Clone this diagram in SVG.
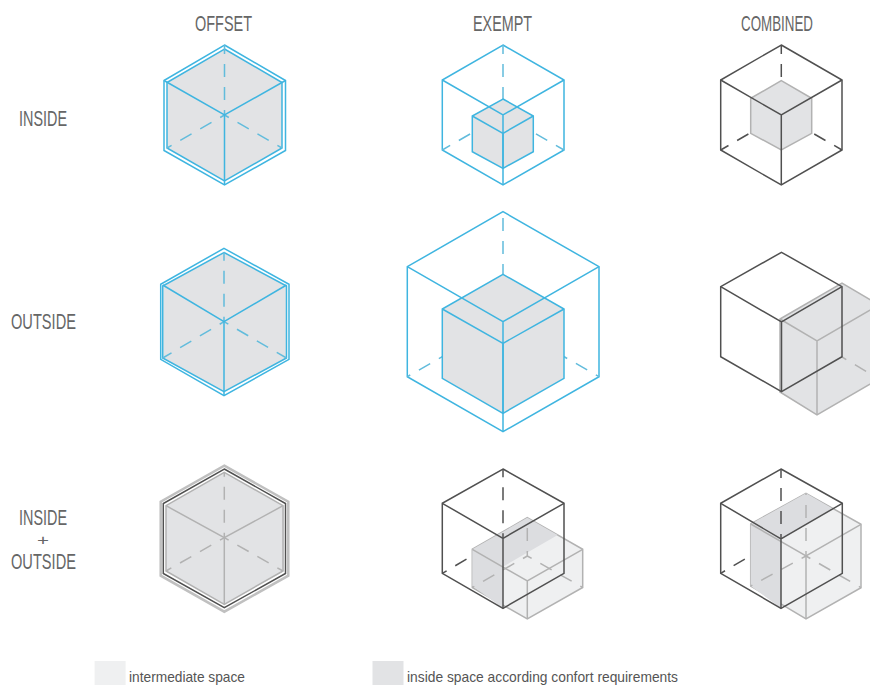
<svg xmlns="http://www.w3.org/2000/svg" width="870" height="685" viewBox="0 0 870 685">
<style>
.t{font-family:"Liberation Sans",Arial,sans-serif;font-size:22.5px;fill:#666}
.p{font-family:"Liberation Sans",Arial,sans-serif;font-size:14px;fill:#666}
.l{font-family:"Liberation Sans",Arial,sans-serif;font-size:14.5px;fill:#555}
path{fill:none;stroke-linejoin:miter;stroke-width:1.5}
.b{stroke:#3fb5e0}
.bd{stroke:#62bcdc;stroke-dasharray:13 10;stroke-dashoffset:8}
.k{stroke:#505050}
.kd{stroke:#505050;stroke-dasharray:13 10;stroke-dashoffset:8}
.g{stroke:#b2b2b2}
.gd{stroke:#b2b2b2;stroke-dasharray:13 10;stroke-dashoffset:8}
.f{fill:#e2e3e5}
.m{fill:#dcdde0;stroke:none}
.li{fill:#eff0f1}
</style>
<rect width="870" height="685" fill="#fff"/>
<g id="headers">
<text class="t" x="195" y="31" textLength="57" lengthAdjust="spacingAndGlyphs">OFFSET</text>
<text class="t" x="473" y="31" textLength="59" lengthAdjust="spacingAndGlyphs">EXEMPT</text>
<text class="t" x="741" y="31" textLength="72" lengthAdjust="spacingAndGlyphs">COMBINED</text>
<text class="t" x="19" y="126" textLength="48" lengthAdjust="spacingAndGlyphs">INSIDE</text>
<text class="t" x="11" y="329" textLength="65" lengthAdjust="spacingAndGlyphs">OUTSIDE</text>
<text class="t" x="19" y="525" textLength="48" lengthAdjust="spacingAndGlyphs">INSIDE</text>
<text class="p" x="37" y="545" textLength="12" lengthAdjust="spacingAndGlyphs">+</text>
<text class="t" x="11" y="569" textLength="65" lengthAdjust="spacingAndGlyphs">OUTSIDE</text>
</g>
<g id="offset-inside">
<path class="f b" d="M224.5 49L282 82.5V148L224.5 181L167 148V82.5Z"/>
<path class="b" d="M224.5 45L285.5 80.5V150.5L224.5 185L164 150.5V80.5Z"/>
<path class="bd" d="M224.5 115V45M224.5 115L167 148M224.5 115L282 148"/>
<path class="b" d="M164 80.5L224.5 115L285.5 80.5M224.5 115V185"/>
</g>
<g id="exempt-inside">
<path class="b" d="M503 45L564 80V150L503 185L442.3 150V80Z"/>
<path class="bd" d="M503 115V45M503 115L442.3 150M503 115L564 150"/>
<path class="f b" d="M503 99L533.3 116V151.7L503 168.3L472.3 151.7V116Z"/>
<path class="b" d="M472.3 116L503 133.3L533.3 116M503 133.3V168.3"/>
<path class="b" d="M442.3 80L503 115L564 80M503 115V185"/>
</g>
<g id="combined-inside">
<path class="k" d="M781.3 45L842 80V150L781.3 185L720.7 150V80Z"/>
<path class="kd" d="M781.3 115V45M781.3 115L720.7 150M781.3 115L842 150"/>
<path class="f g" d="M781.3 80.7L811.7 98.3V133.3L781.3 150L750.7 133.3V98.3Z"/>
<path class="k" d="M720.7 80L781.3 115L842 80M781.3 115V185"/>
</g>
<g id="offset-outside">
<path class="f b" d="M224 252.5L286.5 286V358L224 391.7L162.7 358V286Z"/>
<path class="b" d="M224 248.3L289 284.3V359.3L224 395.7L160.7 359.3V284.3Z"/>
<path class="bd" d="M224 321.7V252M224 321.7L162.7 358M224 321.7L286.5 358"/>
<path class="b" d="M162.7 285L224 321.7L286.5 285M224 321.7V395.7"/>
</g>
<g id="exempt-outside">
<path class="b" d="M503 211.7L599 266.7V376.7L503 431.7L407.3 376.7V266.7Z"/>
<path class="bd" d="M503 321.7L407.3 376.7M503 321.7L599 376.7"/>
<path class="bd" style="stroke-dashoffset:17" d="M503 212V274"/>
<path class="f b" d="M503 274.3L564 309V378.3L503 413.3L442.3 378.3V309Z"/>
<path class="b" d="M442.3 309L503 343.3L564 309M503 343.3V413.3"/>
<path class="b" d="M407.3 266.7L503 321.7L599 266.7M503 321.7V431.7"/>
</g>
<g id="combined-outside">
<path class="f g" d="M780 319L842 283L879 305V379L817 415L780 392Z"/>
<path class="g" d="M780 319L817 341L879 305M817 341V415"/>
<path class="gd" d="M842 357L879 379"/>
<path class="k" d="M781.5 252.3L842 286.7V356.7L781.5 391.7L720.7 356.7V286.7Z"/>
<path class="k" d="M720.7 286.7L781.5 322L842 286.7M781.5 322V391.7"/>
</g>
<g id="offset-both">
<path class="f" style="stroke:none" d="M224.3 472.3L284 505.7V571L224.3 604.3L166 571V505.7Z"/>
<path style="stroke:#c0c0c0;stroke-width:2.5" d="M224.3 465.7L288.3 501.7V575.7L224.3 611.7L160.7 575.7V501.7Z"/>
<path class="k" d="M224.3 469L285.5 503.5V573.5L224.3 607.7L163.3 573.5V503.5Z"/>
<path class="g" d="M224.3 472.3L283 505.7V571L224.3 604.3L166 571V505.7Z"/>
<path class="gd" d="M224.3 537.7V472M224.3 537.7L166 571M224.3 537.7L283 571"/>
<path class="g" d="M166 505.7L224.3 537.7L283 505.7M224.3 537.7V604.3"/>
</g>
<g id="exempt-both">
<path class="li g" d="M527.3 517.7L582.7 549.3V587.5L527.3 619L472.3 587.5V549.3Z"/>
<path class="m" d="M472.3 549.3L527.3 517.7L557.7 535L503 566.7V608.3L472.3 586Z"/>
<path class="g" d="M472.3 549.3L527.3 581L582.7 549.3M527.3 581V619"/>
<path class="gd" d="M527.3 556V518M527.3 556L472.3 587.5M527.3 556L582.7 587.5"/>
<path class="k" d="M503 469L564 503.3V573.3L503 608.3L442.3 573.3V503.3Z"/>
<path class="k" d="M442.3 503.3L503 538.3L564 503.3M503 538.3V608.3"/>
<path class="kd" d="M503 538.3V469M442.3 573.3L472 556"/>
</g>
<g id="combined-both">
<path class="li g" d="M806 493.3L861 524.3V587.7L806 619L750.7 586V524Z"/>
<path class="m" d="M750.7 524L806 493.3L833 508.7L781 539V608.3L750.7 586Z"/>
<path class="g" d="M750.7 524L806 556L861 524.3M806 556V619"/>
<path class="gd" d="M806 556V493.3M806 556L750.7 586M806 556L861 587.7"/>
<path class="k" d="M781 469L842.3 503.3V573.3L781 608.3L720.7 573.3V503.3Z"/>
<path class="k" d="M720.7 503.3L781 539L842.3 503.3M781 539V608.3"/>
<path class="kd" d="M781 539V469M720.7 573.3L750 556"/>
</g>
<g id="legend">
<rect x="94.6" y="661" width="31" height="24" fill="#eff0f1"/>
<text class="l" x="129" y="682" textLength="116" lengthAdjust="spacingAndGlyphs">intermediate space</text>
<rect x="372.5" y="661" width="31" height="24" fill="#e2e3e5"/>
<text class="l" x="407" y="682" textLength="271" lengthAdjust="spacingAndGlyphs">inside space according confort requirements</text>
</g>
</svg>
